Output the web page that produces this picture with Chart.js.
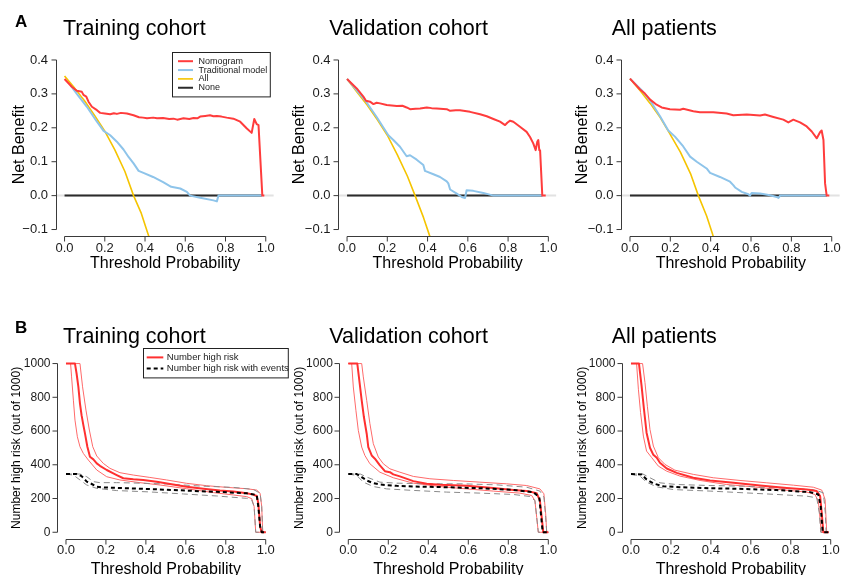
<!DOCTYPE html>
<html><head><meta charset="utf-8">
<script src="https://cdn.jsdelivr.net/npm/chart.js@4.4.1/dist/chart.umd.min.js"></script>
<style>
html,body{margin:0;padding:0;background:#fff;width:843px;height:575px;overflow:hidden;}
#wrap{position:relative;width:843px;height:575px;overflow:hidden;}
canvas{position:absolute;left:0;top:0;}
</style></head><body><div id="wrap">
<canvas id="c0" width="843" height="582"></canvas>
<canvas id="c1" width="843" height="582"></canvas>
<canvas id="c2" width="843" height="582"></canvas>
<canvas id="c3" width="843" height="582"></canvas>
<canvas id="c4" width="843" height="582"></canvas>
<canvas id="c5" width="843" height="582"></canvas>
</div>
<script>
// ---------- tick labels ----------
const probTicks = [0, 0.2, 0.4, 0.6, 0.8, 1.0];
const nbTicks = [-0.1, 0, 0.1, 0.2, 0.3, 0.4];
const nhrTicks = [0, 200, 400, 600, 800, 1000];

// ---------- A: decision curves (threshold, net benefit) ----------
const trainNomogram = [[0,0.344],[0.036,0.321],[0.061,0.309],[0.086,0.306],[0.094,0.297],[0.108,0.292],[0.119,0.277],[0.136,0.262],[0.161,0.252],[0.177,0.244],[0.2,0.242],[0.227,0.240],[0.245,0.243],[0.26,0.241],[0.28,0.244],[0.31,0.242],[0.343,0.237],[0.37,0.231],[0.39,0.230],[0.41,0.228],[0.44,0.230],[0.46,0.228],[0.49,0.229],[0.52,0.226],[0.541,0.227],[0.56,0.224],[0.591,0.228],[0.62,0.226],[0.641,0.229],[0.66,0.228],[0.674,0.233],[0.699,0.235],[0.723,0.237],[0.74,0.234],[0.757,0.235],[0.78,0.233],[0.806,0.230],[0.839,0.227],[0.873,0.218],[0.906,0.198],[0.93,0.185],[0.943,0.226],[0.955,0.211],[0.964,0.208],[0.983,0],[0.993,0]];
const trainTraditional = [[0.03,0.325],[0.061,0.300],[0.111,0.262],[0.161,0.218],[0.194,0.191],[0.227,0.178],[0.26,0.159],[0.293,0.136],[0.318,0.114],[0.343,0.095],[0.368,0.073],[0.392,0.067],[0.44,0.055],[0.49,0.040],[0.53,0.026],[0.575,0.021],[0.608,0.011],[0.624,0.0],[0.674,-0.006],[0.74,-0.014],[0.757,-0.017],[0.765,0],[0.98,0]];
const trainAll = [[0,0.353],[0.05,0.317],[0.1,0.279],[0.15,0.236],[0.2,0.19],[0.25,0.135],[0.3,0.071],[0.343,0],[0.38,-0.05],[0.412,-0.108],[0.43,-0.14]];
const trainNone = [[0,0],[0.98,0]];

const validNomogram = [[0,0.344],[0.048,0.316],[0.081,0.292],[0.094,0.280],[0.114,0.277],[0.131,0.270],[0.147,0.274],[0.164,0.272],[0.197,0.267],[0.247,0.264],[0.275,0.265],[0.296,0.260],[0.313,0.255],[0.34,0.256],[0.363,0.257],[0.396,0.260],[0.42,0.258],[0.445,0.257],[0.495,0.255],[0.512,0.250],[0.54,0.252],[0.561,0.252],[0.611,0.247],[0.661,0.240],[0.694,0.234],[0.727,0.226],[0.76,0.218],[0.785,0.208],[0.796,0.215],[0.81,0.221],[0.826,0.218],[0.859,0.203],[0.892,0.188],[0.909,0.173],[0.925,0.154],[0.937,0.134],[0.945,0.159],[0.95,0.164],[0.955,0.134],[0.959,0.134],[0.97,0],[0.987,0]];
const validTraditional = [[0,0.344],[0.089,0.282],[0.147,0.232],[0.205,0.178],[0.23,0.164],[0.263,0.144],[0.296,0.116],[0.313,0.119],[0.346,0.106],[0.379,0.090],[0.387,0.073],[0.429,0.063],[0.462,0.055],[0.495,0.042],[0.503,0.036],[0.512,0.018],[0.545,0.006],[0.57,-0.004],[0.586,-0.007],[0.594,0.016],[0.627,0.014],[0.677,0.008],[0.727,0],[0.97,0]];
const validAll = [[0,0.344],[0.05,0.305],[0.1,0.267],[0.15,0.224],[0.2,0.178],[0.25,0.12],[0.3,0.057],[0.338,0],[0.38,-0.065],[0.41,-0.118],[0.42,-0.135]];
const validNone = [[0,0],[0.97,0]];

const allNomogram = [[0,0.345],[0.05,0.313],[0.074,0.301],[0.1,0.283],[0.132,0.268],[0.157,0.260],[0.198,0.255],[0.248,0.253],[0.264,0.256],[0.314,0.249],[0.347,0.246],[0.413,0.246],[0.479,0.242],[0.512,0.237],[0.579,0.239],[0.645,0.236],[0.669,0.239],[0.711,0.232],[0.76,0.224],[0.785,0.216],[0.81,0.224],[0.818,0.222],[0.843,0.216],[0.876,0.204],[0.901,0.189],[0.926,0.169],[0.942,0.187],[0.95,0.192],[0.959,0.164],[0.967,0.036],[0.975,0],[0.988,0]];
const allTraditional = [[0,0.345],[0.058,0.311],[0.099,0.281],[0.149,0.234],[0.19,0.192],[0.223,0.174],[0.264,0.145],[0.298,0.115],[0.331,0.100],[0.38,0.080],[0.397,0.067],[0.446,0.055],[0.496,0.041],[0.512,0.031],[0.521,0.024],[0.554,0.011],[0.587,0.004],[0.595,0],[0.603,0.008],[0.645,0.006],[0.694,0.001],[0.727,-0.004],[0.736,-0.007],[0.744,0],[0.975,0]];
const allAll = [[0,0.345],[0.05,0.31],[0.1,0.272],[0.15,0.23],[0.19,0.19],[0.25,0.128],[0.3,0.065],[0.339,0],[0.38,-0.06],[0.41,-0.115],[0.42,-0.135]];
const allNone = [[0,0],[0.975,0]];

const zeroRef = [[-0.04,0],[1.04,0]];

// ---------- B: clinical impact curves (threshold, number high risk of 1000) ----------
const trainHighRisk = [[0,1000],[0.045,1000],[0.053,941],[0.062,862],[0.07,763],[0.078,694],[0.087,635],[0.095,586],[0.107,507],[0.12,448],[0.137,432],[0.154,408],[0.17,394],[0.204,369],[0.237,349],[0.254,339],[0.287,320],[0.337,314],[0.387,310],[0.454,300],[0.521,286],[0.604,270],[0.688,258],[0.771,247],[0.838,241],[0.905,231],[0.938,223],[0.955,215],[0.963,172],[0.972,34],[0.98,0],[1.0,0]];
const trainHighRiskUpper = [[0,1000],[0.07,1000],[0.083,862],[0.1,724],[0.117,606],[0.134,507],[0.154,452],[0.187,408],[0.22,379],[0.27,353],[0.337,339],[0.42,325],[0.504,310],[0.604,290],[0.705,276],[0.805,266],[0.905,258],[0.955,250],[0.972,231],[0.98,152],[0.985,0],[1.0,0]];
const trainHighRiskLower = [[0,1000],[0.023,1000],[0.028,921],[0.037,783],[0.045,665],[0.057,566],[0.07,507],[0.087,467],[0.112,428],[0.154,369],[0.204,329],[0.27,310],[0.37,294],[0.471,280],[0.604,258],[0.738,235],[0.838,221],[0.905,211],[0.93,199],[0.942,152],[0.95,0],[1.0,0]];
const trainEvents = [[0,345],[0.053,345],[0.078,333],[0.104,300],[0.129,286],[0.154,270],[0.187,266],[0.27,262],[0.37,258],[0.504,252],[0.638,245],[0.771,239],[0.905,231],[0.955,221],[0.963,152],[0.972,34],[0.98,0],[1.0,0]];
const trainEventsUpper = [[0,345],[0.07,345],[0.104,329],[0.137,300],[0.17,294],[0.254,294],[0.337,292],[0.504,286],[0.671,274],[0.838,266],[0.938,254],[0.972,231],[0.98,152],[0.985,0],[1.0,0]];
const trainEventsLower = [[0,345],[0.037,339],[0.07,310],[0.104,280],[0.154,260],[0.254,247],[0.42,239],[0.588,227],[0.755,215],[0.905,201],[0.93,191],[0.942,152],[0.95,0],[1.0,0]];

const validHighRisk = [[0,1000],[0.045,1000],[0.055,901],[0.067,782],[0.078,683],[0.092,584],[0.1,505],[0.117,455],[0.133,436],[0.158,396],[0.183,362],[0.208,356],[0.225,343],[0.258,331],[0.325,303],[0.392,287],[0.458,281],[0.592,275],[0.725,263],[0.825,251],[0.892,244],[0.942,232],[0.958,188],[0.967,89],[0.975,0],[1.0,0]];
const validHighRiskUpper = [[0,1000],[0.067,1000],[0.075,921],[0.092,782],[0.108,644],[0.125,525],[0.15,446],[0.175,406],[0.208,376],[0.258,356],[0.325,331],[0.408,317],[0.525,307],[0.658,297],[0.792,287],[0.892,277],[0.958,257],[0.978,228],[0.987,109],[0.992,0],[1.0,0]];
const validHighRiskLower = [[0,1000],[0.017,1000],[0.025,861],[0.038,723],[0.05,604],[0.067,505],[0.083,455],[0.108,406],[0.158,356],[0.225,323],[0.325,291],[0.458,271],[0.592,257],[0.725,244],[0.858,232],[0.917,218],[0.933,188],[0.942,89],[0.95,0],[1.0,0]];
const validEvents = [[0,345],[0.042,345],[0.067,327],[0.092,307],[0.125,291],[0.158,283],[0.242,275],[0.325,271],[0.492,267],[0.658,261],[0.825,251],[0.925,238],[0.955,208],[0.963,109],[0.972,0],[1.0,0]];
const validEventsUpper = [[0,345],[0.06,345],[0.092,327],[0.158,297],[0.242,291],[0.408,287],[0.575,287],[0.742,281],[0.892,267],[0.958,244],[0.978,208],[0.987,89],[0.992,0],[1.0,0]];
const validEventsLower = [[0,345],[0.042,337],[0.075,297],[0.125,271],[0.192,257],[0.325,248],[0.492,238],[0.658,232],[0.825,224],[0.908,212],[0.933,188],[0.942,89],[0.95,0],[1.0,0]];

const allHighRisk = [[0,1000],[0.04,1000],[0.053,867],[0.065,729],[0.078,590],[0.095,501],[0.112,459],[0.129,442],[0.145,412],[0.179,378],[0.229,352],[0.312,323],[0.396,307],[0.513,293],[0.646,277],[0.78,263],[0.88,253],[0.93,244],[0.947,214],[0.955,115],[0.963,0],[0.99,0]];
const allHighRiskUpper = [[0,1000],[0.058,1000],[0.07,887],[0.082,747],[0.095,610],[0.112,511],[0.137,442],[0.17,402],[0.22,368],[0.312,343],[0.412,323],[0.546,307],[0.68,293],[0.813,279],[0.913,267],[0.955,250],[0.972,194],[0.98,0],[0.99,0]];
const allHighRiskLower = [[0,1000],[0.028,1000],[0.037,848],[0.048,709],[0.062,570],[0.078,481],[0.104,442],[0.137,392],[0.179,362],[0.245,333],[0.346,307],[0.479,283],[0.613,269],[0.746,253],[0.88,238],[0.921,224],[0.938,184],[0.947,75],[0.952,0],[0.99,0]];
const allEvents = [[0,345],[0.053,343],[0.078,313],[0.112,289],[0.162,273],[0.245,267],[0.396,261],[0.563,257],[0.73,250],[0.896,238],[0.938,224],[0.95,154],[0.96,0],[0.99,0]];
const allEventsUpper = [[0,345],[0.06,345],[0.095,323],[0.145,293],[0.229,283],[0.396,277],[0.563,273],[0.73,263],[0.913,253],[0.963,234],[0.973,115],[0.977,0],[0.99,0]];
const allEventsLower = [[0,345],[0.045,333],[0.078,297],[0.129,269],[0.212,253],[0.396,244],[0.563,234],[0.73,224],[0.88,214],[0.93,204],[0.943,115],[0.95,0],[0.99,0]];

// ---------- rendering ----------
const FONT = '"Liberation Sans", Arial, Helvetica, sans-serif';
Chart.defaults.font.family = FONT;
Chart.defaults.color = '#111';
const W = 843, H = 582;

const pts = a => a.map(([x, y]) => ({x, y}));
const line = (label, data, color, width, dash) => ({label, data: pts(data), borderColor: color, borderWidth: width, borderDash: dash || [], fill: false, pointRadius: 0});

const RED = '#ff3c3c', BLUE = '#8ec4ea', GOLD = '#f5c400', NONE = '#2b2b2b', ZERO = '#e2e2e2';
function aSets(nom, trad, all, none) {
  return [line('Nomogram', nom, RED, 2), line('Traditional model', trad, BLUE, 2), line('All', all, GOLD, 1.6),
          line('None', none, NONE, 2), line('', zeroRef, ZERO, 2)];
}
function bSets(hr, hrU, hrL, ev, evU, evL) {
  return [line('Number high risk with events', ev, '#000', 2, [4, 3]), line('Number high risk', hr, '#ff3030', 2),
          line('', evU, '#8a8a8a', 1, [6, 4]), line('', evL, '#8a8a8a', 1, [6, 4]),
          line('', hrU, '#ff6a6a', 1), line('', hrL, '#ff6a6a', 1)];
}

const rStyle = {
  id: 'rStyle',
  afterDraw(chart) {
    const o = chart.options.plugins.rStyle;
    const ctx = chart.ctx, ca = chart.chartArea, xs = chart.scales.x, ys = chart.scales.y;
    ctx.save();
    ctx.strokeStyle = '#3a3a3a'; ctx.lineWidth = 1; ctx.setLineDash([]);
    const xp = xs.ticks.map(t => xs.getPixelForValue(t.value));
    const yp = ys.ticks.map(t => ys.getPixelForValue(t.value));
    const by = Math.round(ca.bottom) + 0.5, lx = Math.round(ca.left) - 0.5;
    ctx.beginPath();
    ctx.moveTo(xp[0], by); ctx.lineTo(xp[xp.length - 1], by);
    xp.forEach(p => { ctx.moveTo(p, by); ctx.lineTo(p, by + 5); });
    ctx.moveTo(lx, yp[0]); ctx.lineTo(lx, yp[yp.length - 1]);
    yp.forEach(p => { ctx.moveTo(lx, p); ctx.lineTo(lx - 5, p); });
    ctx.stroke();
    ctx.fillStyle = '#000'; ctx.textAlign = 'left'; ctx.textBaseline = 'alphabetic';
    ctx.font = '21.5px ' + FONT;
    ctx.fillText(o.title, o.titleX, o.titleY);
    if (o.letter) { ctx.font = 'bold 17px ' + FONT; ctx.fillText(o.letter, 15, o.letterY); }
    const L = o.legend;
    if (L) {
      ctx.fillStyle = '#fff'; ctx.fillRect(L.x, L.y, L.w, L.h);
      ctx.strokeStyle = '#222'; ctx.lineWidth = 1;
      ctx.strokeRect(Math.round(L.x) + 0.5, Math.round(L.y) + 0.5, L.w, L.h);
      ctx.font = L.font + 'px ' + FONT; ctx.textBaseline = 'middle';
      L.items.forEach((di, i) => {
        const ds = chart.data.datasets[di];
        const y = L.rowY + i * L.rowH;
        ctx.strokeStyle = ds.borderColor; ctx.lineWidth = ds.borderWidth >= 2 ? 2 : ds.borderWidth;
        ctx.setLineDash(ds.borderDash || []);
        ctx.beginPath(); ctx.moveTo(L.lx1, y); ctx.lineTo(L.lx2, y); ctx.stroke();
        ctx.setLineDash([]);
        ctx.fillStyle = '#222'; ctx.fillText(ds.label, L.tx, y);
      });
    }
    ctx.restore();
  }
};

const legendA = {x: 171.5, y: 52.3, w: 97.8, h: 44.4, rowY: 61.2, rowH: 8.85, lx1: 178, lx2: 193, tx: 198.5, font: 9, items: [0, 1, 2, 3]};
const legendB = {x: 142.5, y: 348.3, w: 144.8, h: 29.4, rowY: 357.4, rowH: 11, lx1: 146.7, lx2: 163.3, tx: 166.8, font: 9.5, items: [1, 0]};

const panels = [
  {id: 'c0', kind: 'A', title: 'Training cohort', titleX: 63, letter: 'A', left: 56.5, right: 273.8, tLeft: 9.9, sets: aSets(trainNomogram, trainTraditional, trainAll, trainNone), legend: legendA},
  {id: 'c1', kind: 'A', title: 'Validation cohort', titleX: 329.3, left: 339, right: 556.4, tLeft: 289.9, sets: aSets(validNomogram, validTraditional, validAll, validNone)},
  {id: 'c2', kind: 'A', title: 'All patients', titleX: 611.7, left: 621.9, right: 839.8, tLeft: 573.2, sets: aSets(allNomogram, allTraditional, allAll, allNone)},
  {id: 'c3', kind: 'B', title: 'Training cohort', titleX: 63, letter: 'B', left: 58, right: 273.7, tLeft: 9.6, sets: bSets(trainHighRisk, trainHighRiskUpper, trainHighRiskLower, trainEvents, trainEventsUpper, trainEventsLower), legend: legendB},
  {id: 'c4', kind: 'B', title: 'Validation cohort', titleX: 329.3, left: 340.3, right: 556.3, tLeft: 292.1, sets: bSets(validHighRisk, validHighRiskUpper, validHighRiskLower, validEvents, validEventsUpper, validEventsLower)},
  {id: 'c5', kind: 'B', title: 'All patients', titleX: 611.7, left: 623, right: 838.7, tLeft: 575.1, sets: bSets(allHighRisk, allHighRiskUpper, allHighRiskLower, allEvents, allEventsUpper, allEventsLower)}
];

panels.forEach(p => {
  const isA = p.kind === 'A';
  const top = isA ? 53.2 : 356.8, bottom = isA ? 236.3 : 539;
  const scaleBottom = isA ? 273.1 : 579.5;
  const yW = p.left - p.tLeft, xH = scaleBottom - bottom;
  const yTicks = isA ? nbTicks : nhrTicks;
  new Chart(document.getElementById(p.id), {
    type: 'line',
    data: {datasets: p.sets},
    options: {
      responsive: false, animation: false, devicePixelRatio: 1,
      layout: {padding: {left: p.tLeft, top: top, right: W - p.right, bottom: H - scaleBottom}},
      plugins: {legend: {display: false}, tooltip: {enabled: false}, title: {display: false},
        rStyle: {title: p.title, titleX: p.titleX, titleY: isA ? 35 : 342.7, letter: p.letter, letterY: isA ? 27 : 333.3, legend: p.legend}},
      elements: {point: {radius: 0}, line: {tension: 0, borderJoinStyle: 'round'}},
      scales: {
        x: {type: 'linear', min: -0.04, max: 1.04,
          grid: {display: false, drawTicks: false}, border: {display: false},
          afterBuildTicks: s => { s.ticks = probTicks.map(v => ({value: v})); },
          afterFit: s => { s.height = xH; s.paddingLeft = 0; s.paddingRight = 0; },
          ticks: {autoSkip: false, maxRotation: 0, minRotation: 0, padding: isA ? 4 : 3.2, font: {size: 13}, color: '#1a1a1a', callback: v => v.toFixed(1)},
          title: {display: true, text: 'Threshold Probability', font: {size: 16}, padding: 0, color: '#000'}},
        y: {type: 'linear', min: isA ? -0.12 : -40, max: isA ? 0.42 : 1040,
          grid: {display: false, drawTicks: false}, border: {display: false},
          afterBuildTicks: s => { s.ticks = yTicks.map(v => ({value: v})); },
          afterFit: s => { s.width = yW; s.paddingTop = 0; s.paddingBottom = 0; },
          ticks: {autoSkip: false, padding: isA ? 8.5 : 7.5, font: {size: isA ? 13 : 12}, color: '#1a1a1a',
            callback: v => isA ? (v < 0 ? '\u2212' + Math.abs(v).toFixed(1) : v.toFixed(1)) : String(v)},
          title: {display: true, text: isA ? 'Net Benefit' : 'Number high risk (out of 1000)', font: {size: isA ? 16 : 12}, padding: 0, color: '#000'}}
      }
    },
    plugins: [rStyle]
  });
});
</script>
</body></html>
